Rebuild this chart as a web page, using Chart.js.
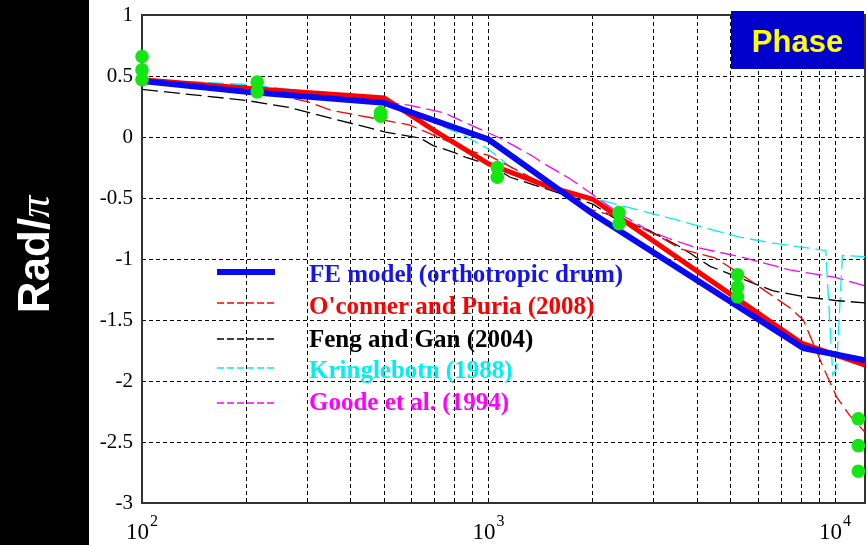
<!DOCTYPE html>
<html><head><meta charset="utf-8">
<script src="https://cdn.jsdelivr.net/npm/chart.js@4"></script>
<style>html,body{margin:0;padding:0;background:#fff;overflow:hidden;} #wrap{position:relative;width:867px;height:545px;}</style>
</head><body><div id="wrap"><canvas id="c"></canvas></div>
<script>
// ---- data (frequency in Hz, phase in rad/pi) ----
const feFreq   = [100, 200, 500, 1000, 2000, 8100, 12200];
const feVals   = [0.46, 0.37, 0.28, -0.02, -0.63, -1.73, -1.83];

const redFreq  = [100, 200, 500, 700, 1000, 1500, 2000, 8000, 12200];
const redVals  = [0.47, 0.40, 0.32, 0.05, -0.22, -0.41, -0.51, -1.69, -1.87];

const ocFreq   = [100, 200, 300, 350, 590, 900, 1000, 2000, 2400, 3130, 3600, 4500, 5580, 7400, 8100, 9250, 10100, 11000, 12200];
const ocVals   = [0.47, 0.40, 0.29, 0.22, 0.10, -0.12, -0.15, -0.60, -0.66, -0.82, -0.92, -0.99, -1.16, -1.40, -1.50, -1.89, -2.13, -2.28, -2.42];

const fgFreq   = [100, 200, 268, 504, 636, 692, 801, 866, 1010, 1155, 2000, 2290, 2870, 3570, 4360, 6600, 8200, 10000, 12200];
const fgVals   = [0.39, 0.30, 0.24, 0.04, -0.01, -0.07, -0.13, -0.17, -0.23, -0.33, -0.55, -0.66, -0.76, -0.90, -1.06, -1.26, -1.31, -1.34, -1.36];

const krFreq   = [100, 200, 500, 866, 1000, 1200, 1500, 2000, 2800, 3500, 4400, 5300, 6600, 9400, 9850, 10100, 10500, 12200];
const krVals   = [0.47, 0.43, 0.30, 0.0, -0.10, -0.28, -0.41, -0.50, -0.61, -0.68, -0.76, -0.82, -0.87, -0.93, -1.95, -1.90, -0.97, -0.98];

const goFreq   = [100, 200, 300, 594, 741, 886, 1082, 1346, 1410, 1690, 1840, 2360, 2870, 3300, 3900, 5300, 7400, 10000, 12200];
const goVals   = [0.47, 0.42, 0.37, 0.26, 0.20, 0.10, -0.01, -0.16, -0.20, -0.33, -0.40, -0.62, -0.76, -0.83, -0.90, -0.98, -1.09, -1.15, -1.22];

const measFreq = [100, 100, 100, 215, 215, 488, 488, 1060, 1060, 2380, 2380, 5230, 5230, 5230, 11670, 11670, 11670];
const measVals = [0.66, 0.55, 0.47, 0.45, 0.37, 0.20, 0.17, -0.25, -0.33, -0.62, -0.71, -1.13, -1.23, -1.31, -2.31, -2.53, -2.74];

const legendLabels = ["FE model (orthotropic drum)", "O'conner and Puria (2008)", "Feng and Gan (2004)", "Kringlebotn (1988)", "Goode et al. (1994)"];
const xGridValues = [100,200,300,400,500,600,700,800,900,1000,2000,3000,4000,5000,6000,7000,8000,9000,10000];
const xLabelValues = [100, 1000, 10000];
const xLabelExps = ["2", "3", "4"];
const yAxisTitle = "Rad/";
const yAxisTitlePi = "\u03C0";
const boxTitle = "Phase";

const pts = (f, v) => f.map((x, i) => ({x, y: v[i]}));

const C_BLUE = '#0a0af0', C_RED = '#ff0000', C_BLACK = '#000000', C_CYAN = '#00f0f0', C_MAG = '#ff00ff', C_GREEN = '#14e614';

const datasets = [
  {type:'scatter', label:'meas', data: pts(measFreq, measVals), pointRadius:6.8, pointHoverRadius:6.8, backgroundColor:C_GREEN, borderWidth:0, clip:false},
  {label:legendLabels[0], data: pts(feFreq, feVals), borderColor:C_BLUE, borderWidth:6, pointRadius:0, tension:0, fill:false},
  {label:'thick', data: pts(redFreq, redVals), borderColor:C_RED, borderWidth:5, pointRadius:0, tension:0, fill:false},
  {label:legendLabels[1], data: pts(ocFreq, ocVals), borderColor:C_RED, borderWidth:1.3, borderDash:[16,6], pointRadius:0, tension:0, fill:false},
  {label:legendLabels[2], data: pts(fgFreq, fgVals), borderColor:C_BLACK, borderWidth:1.3, borderDash:[16,6], pointRadius:0, tension:0, fill:false},
  {label:legendLabels[3], data: pts(krFreq, krVals), borderColor:C_CYAN, borderWidth:1.3, borderDash:[16,6], pointRadius:0, tension:0, fill:false},
  {label:legendLabels[4], data: pts(goFreq, goVals), borderColor:C_MAG, borderWidth:1.3, borderDash:[16,6], pointRadius:0, tension:0, fill:false}
];

const legendStyle = [
  {color:C_BLUE, text:'#1414ee', width:6, dash:[]},
  {color:C_RED, text:'#ff0000', width:1.5, dash:[7,3]},
  {color:C_BLACK, text:'#000000', width:1.5, dash:[7,3]},
  {color:C_CYAN, text:'#00f0f0', width:1.5, dash:[7,3]},
  {color:C_MAG, text:'#ff00ff', width:1.5, dash:[7,3]}
];

const decor = {
  id:'decor',
  beforeDraw(chart) {
    const ctx = chart.ctx;
    ctx.save();
    ctx.fillStyle = '#000';
    ctx.fillRect(0, 0, 89, chart.height);
    ctx.restore();
  },
  beforeDatasetsDraw(chart) {
    const {ctx, chartArea:a} = chart;
    ctx.save();
    ctx.strokeStyle = '#333';
    ctx.lineWidth = 2;
    ctx.setLineDash([]);
    ctx.strokeRect(a.left, a.top, a.right - a.left, a.bottom - a.top);
    ctx.restore();
  },
  afterDraw(chart) {
    const ctx = chart.ctx;
    const xs = chart.scales.x;
    ctx.save();
    // x tick labels 10^n
    ctx.fillStyle = '#000';
    ctx.textBaseline = 'alphabetic';
    ctx.textAlign = 'left';
    xLabelValues.forEach((v, i) => {
      const px = xs.getPixelForValue(v);
      ctx.font = '23px "Liberation Serif"';
      const w1 = ctx.measureText('10').width;
      ctx.font = '16px "Liberation Serif"';
      const w2 = ctx.measureText(xLabelExps[i]).width;
      const start = px - (w1 + w2 + 1) / 2;
      ctx.font = '23px "Liberation Serif"';
      ctx.fillText('10', start, 539);
      ctx.font = '16px "Liberation Serif"';
      ctx.fillText(xLabelExps[i], start + w1 + 1, 526);
    });
    // legend
    const lineY = [272, 303, 339, 368, 403];
    const textY = [282, 314, 347, 378, 410];
    ctx.font = 'bold 25px "Liberation Serif"';
    legendLabels.forEach((lab, i) => {
      const s = legendStyle[i];
      ctx.strokeStyle = s.color;
      ctx.lineWidth = s.width;
      ctx.setLineDash(s.dash);
      ctx.beginPath();
      ctx.moveTo(217, lineY[i]);
      ctx.lineTo(275, lineY[i]);
      ctx.stroke();
      ctx.fillStyle = s.text;
      ctx.fillText(lab, 309, textY[i]);
    });
    ctx.setLineDash([]);
    // Phase box
    ctx.fillStyle = '#0000cc';
    ctx.fillRect(731, 11, 133, 58);
    ctx.fillStyle = '#ffff00';
    ctx.font = 'bold 31px "Liberation Sans"';
    ctx.textAlign = 'center';
    ctx.fillText(boxTitle, 797.5, 52);
    // y axis title
    ctx.textAlign = 'left';
    ctx.font = 'bold 44px "Liberation Sans"';
    const w1 = ctx.measureText(yAxisTitle).width;
    ctx.font = 'italic 44px "Liberation Serif"';
    const w2 = ctx.measureText(yAxisTitlePi).width;
    const total = w1 + w2;
    ctx.translate(49, 254.5 + total / 2);
    ctx.rotate(-Math.PI / 2);
    ctx.fillStyle = '#fff';
    ctx.font = 'bold 44px "Liberation Sans"';
    ctx.fillText(yAxisTitle, 0, 0);
    ctx.font = 'italic 44px "Liberation Serif"';
    ctx.fillText(yAxisTitlePi, w1, 0);
    ctx.restore();
  }
};

new Chart(document.getElementById('c'), {
  type:'line',
  data:{datasets},
  options:{
    responsive:true, maintainAspectRatio:false, animation:false, devicePixelRatio:1,
    layout:{autoPadding:false, padding:{left:89, right:2, top:15, bottom:0}},
    plugins:{legend:{display:false}, tooltip:{enabled:false}},
    scales:{
      x:{type:'logarithmic', min:100, max:12200,
         afterBuildTicks: s => { s.ticks = xGridValues.map(v => ({value:v})); },
         afterFit: s => { s.height = 42; s.paddingLeft = 0; s.paddingRight = 0; s.paddingTop = 0; s.paddingBottom = 0; },
         ticks:{display:false},
         grid:{color:'#000', lineWidth:1, drawTicks:false},
         border:{display:false, dash:[4,3]}},
      y:{min:-3, max:1,
         afterFit: s => { s.width = 53; s.paddingTop = 0; s.paddingBottom = 0; s.paddingLeft = 0; s.paddingRight = 0; },
         ticks:{stepSize:0.5, padding:9, color:'#000', font:{family:'Liberation Serif', size:21},
                callback: v => String(Math.round(v*10)/10)},
         grid:{color:'#000', lineWidth:1, drawTicks:false},
         border:{display:false, dash:[4,3]}}
    }
  },
  plugins:[decor]
});
</script>
</body></html>
